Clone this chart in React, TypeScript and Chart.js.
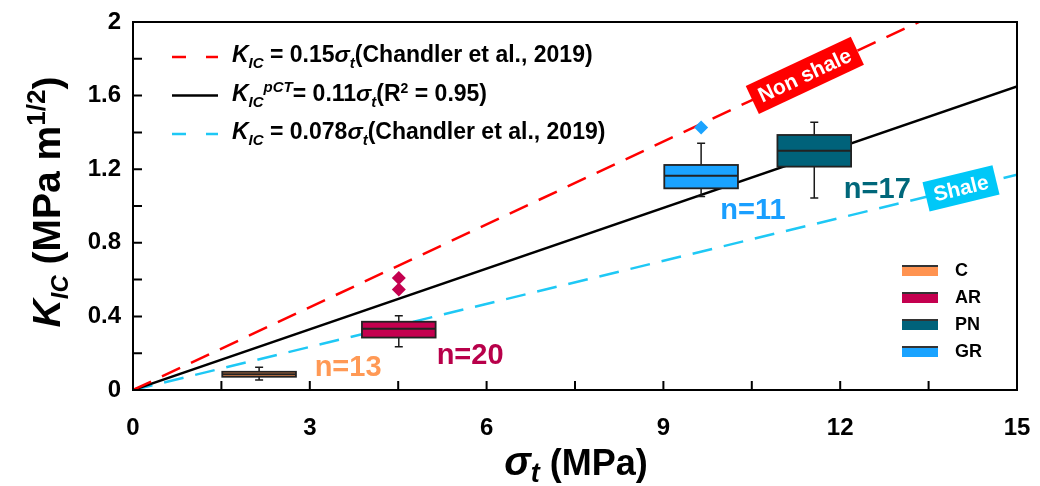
import React, { useEffect, useRef } from 'react';
import { Chart, registerables } from 'chart.js';

Chart.register(...registerables);

// Rock groups and their box statistics (K_IC in MPa m^1/2, sigma_t in MPa)
const groups = ['C', 'AR', 'PN', 'GR'];
const groupColors = ['#FF9350', '#C4004F', '#00627A', '#1AA3FF'];
const countColors = ['#FF9955', '#B8004A', '#00677A', '#1A9FFF'];
const centers = [2.14, 4.51, 11.56, 9.64];
const whiskerLow = [0.054, 0.235, 1.043, 1.051];
const q1 = [0.072, 0.285, 1.214, 1.096];
const medians = [0.086, 0.333, 1.3, 1.165];
const q3 = [0.099, 0.371, 1.386, 1.223];
const whiskerHigh = [0.123, 0.404, 1.455, 1.341];
const counts = [13, 20, 17, 11];
const countLabelX = [3.65, 5.72, 12.63, 10.52];
const countLabelY = [0.117, 0.185, 1.087, 0.973];
const boxWidth = 1.25;

// Outliers
const outlierX = [4.51, 4.51, 9.64];
const outlierY = [0.609, 0.546, 1.426];
const outlierGroup = [1, 1, 3];

// Linear relations K_IC = slope * sigma_t
const fitSlopes = [0.15, 0.11, 0.078];
const fitColors = ['#FF0000', '#000000', '#1EC8F5'];
const fitDashed = [true, false, true];
const fitRange = [0, 15];

// Axis ticks
const xMajorTicks = [0, 3, 6, 9, 12, 15];
const xMinorTicks = [1.5, 3, 4.5, 6, 7.5, 9, 10.5, 12, 13.5];
const yMinorTicks = [0.2, 0.4, 0.6, 0.8, 1.0, 1.2, 1.4, 1.6, 1.8];

const FONT = "Arial, 'Liberation Sans', Helvetica, sans-serif";

type Seg = { t: string; size: number; italic?: boolean; dy?: number };

function richWidth(ctx: CanvasRenderingContext2D, segs: Seg[]) {
  let w = 0;
  for (const s of segs) {
    ctx.font = `${s.italic ? 'italic ' : ''}bold ${s.size}px ${FONT}`;
    w += ctx.measureText(s.t).width;
  }
  return w;
}

function drawRich(ctx: CanvasRenderingContext2D, segs: Seg[], x: number, y: number) {
  let cx = x;
  ctx.textBaseline = 'alphabetic';
  ctx.textAlign = 'left';
  for (const s of segs) {
    ctx.font = `${s.italic ? 'italic ' : ''}bold ${s.size}px ${FONT}`;
    ctx.fillText(s.t, cx, y + (s.dy || 0));
    cx += ctx.measureText(s.t).width;
  }
}

const legendRows: Seg[][] = [
  [
    { t: 'K', size: 23, italic: true },
    { t: 'IC', size: 15, italic: true, dy: 6 },
    { t: ' = 0.15', size: 23 },
    { t: 'σ', size: 23, italic: true },
    { t: 't', size: 15, italic: true, dy: 6 },
    { t: '(Chandler et al., 2019)', size: 23 },
  ],
  [
    { t: 'K', size: 23, italic: true },
    { t: 'IC', size: 15, italic: true, dy: 6 },
    { t: 'pCT', size: 15, italic: true, dy: -9 },
    { t: '= 0.11', size: 23 },
    { t: 'σ', size: 23, italic: true },
    { t: 't', size: 15, italic: true, dy: 6 },
    { t: '(R', size: 23 },
    { t: '2', size: 14, dy: -8 },
    { t: ' = 0.95)', size: 23 },
  ],
  [
    { t: 'K', size: 23, italic: true },
    { t: 'IC', size: 15, italic: true, dy: 6 },
    { t: ' = 0.078', size: 23 },
    { t: 'σ', size: 23, italic: true },
    { t: 't', size: 15, italic: true, dy: 6 },
    { t: '(Chandler et al., 2019)', size: 23 },
  ],
];

const yTitle: Seg[] = [
  { t: 'K', size: 39, italic: true },
  { t: 'IC', size: 24, italic: true, dy: 8 },
  { t: ' (MPa m', size: 39 },
  { t: '1/2', size: 26, dy: -15 },
  { t: ')', size: 39 },
];

const xTitle: Seg[] = [
  { t: 'σ', size: 40, italic: true },
  { t: 't', size: 27, italic: true, dy: 7 },
  { t: ' (MPa)', size: 36 },
];

const decorPlugin = {
  id: 'decor',
  afterDatasetsDraw(chart: any) {
    const ctx: CanvasRenderingContext2D = chart.ctx;
    const xs = chart.scales.x;
    const ys = chart.scales.y;
    const area = chart.chartArea;
    ctx.save();

    // region tags sitting on the Chandler lines
    const tag = (text: string, slope: number, xv: number, fill: string, w: number, h: number) => {
      const px = xs.getPixelForValue(xv);
      const py = ys.getPixelForValue(slope * xv);
      const ang = Math.atan2(
        ys.getPixelForValue(slope * 10) - ys.getPixelForValue(0),
        xs.getPixelForValue(10) - xs.getPixelForValue(0)
      );
      ctx.save();
      ctx.translate(px, py);
      ctx.rotate(ang);
      ctx.fillStyle = fill;
      ctx.fillRect(-w / 2, -h / 2, w, h);
      ctx.fillStyle = '#FFFFFF';
      ctx.font = `bold 21px ${FONT}`;
      ctx.textAlign = 'center';
      ctx.textBaseline = 'middle';
      ctx.fillText(text, 0, 1);
      ctx.restore();
    };
    tag('Non shale', fitSlopes[0], 11.4, '#FF0000', 116, 31);
    tag('Shale', fitSlopes[2], 14.05, '#00C8F8', 72, 30);

    // box plots
    groups.forEach((g, i) => {
      const cx = xs.getPixelForValue(centers[i]);
      const left = xs.getPixelForValue(centers[i] - boxWidth / 2);
      const right = xs.getPixelForValue(centers[i] + boxWidth / 2);
      const top = ys.getPixelForValue(q3[i]);
      const bot = ys.getPixelForValue(q1[i]);
      const wHi = ys.getPixelForValue(whiskerHigh[i]);
      const wLo = ys.getPixelForValue(whiskerLow[i]);
      ctx.strokeStyle = '#1A1A1A';
      ctx.lineWidth = 1.5;
      ctx.beginPath();
      ctx.moveTo(cx, top);
      ctx.lineTo(cx, wHi);
      ctx.moveTo(cx - 4, wHi);
      ctx.lineTo(cx + 4, wHi);
      ctx.moveTo(cx, bot);
      ctx.lineTo(cx, wLo);
      ctx.moveTo(cx - 4, wLo);
      ctx.lineTo(cx + 4, wLo);
      ctx.stroke();
      ctx.fillStyle = groupColors[i];
      ctx.fillRect(left, top, right - left, bot - top);
      ctx.lineWidth = 1.8;
      ctx.strokeStyle = '#222222';
      ctx.strokeRect(left, top, right - left, bot - top);
      const my = ys.getPixelForValue(medians[i]);
      ctx.lineWidth = 2;
      ctx.beginPath();
      ctx.moveTo(left, my);
      ctx.lineTo(right, my);
      ctx.stroke();

      // sample counts
      ctx.fillStyle = countColors[i];
      ctx.font = `bold 29px ${FONT}`;
      ctx.textAlign = 'center';
      ctx.textBaseline = 'middle';
      ctx.fillText(`n=${counts[i]}`, xs.getPixelForValue(countLabelX[i]), ys.getPixelForValue(countLabelY[i]));
    });

    // group legend (bottom right)
    groups.forEach((g, i) => {
      const y = 265 + i * 27;
      ctx.fillStyle = groupColors[i];
      ctx.fillRect(902, y, 36, 11);
      ctx.fillStyle = '#333333';
      ctx.fillRect(902, y, 36, 2);
      ctx.fillStyle = '#000000';
      ctx.font = `bold 18px ${FONT}`;
      ctx.textAlign = 'left';
      ctx.textBaseline = 'middle';
      ctx.fillText(g, 955, y + 6);
    });

    // relation legend (top left)
    legendRows.forEach((row, i) => {
      const ly = 57 + i * 38.5;
      ctx.strokeStyle = fitColors[i];
      ctx.lineWidth = 2.5;
      ctx.setLineDash(fitDashed[i] ? [14, 20] : []);
      ctx.beginPath();
      ctx.moveTo(172, ly);
      ctx.lineTo(218, ly);
      ctx.stroke();
      ctx.setLineDash([]);
      ctx.fillStyle = '#000000';
      drawRich(ctx, row, 232, ly + 5);
    });

    // frame and inward ticks
    ctx.strokeStyle = '#000000';
    ctx.lineWidth = 2;
    ctx.strokeRect(area.left, area.top, area.right - area.left, area.bottom - area.top);
    ctx.beginPath();
    xMinorTicks.forEach((v) => {
      const p = xs.getPixelForValue(v);
      ctx.moveTo(p, area.bottom);
      ctx.lineTo(p, area.bottom - 9);
    });
    yMinorTicks.forEach((v) => {
      const p = ys.getPixelForValue(v);
      ctx.moveTo(area.left, p);
      ctx.lineTo(area.left + 9, p);
    });
    ctx.stroke();

    // axis titles
    ctx.fillStyle = '#000000';
    const xw = richWidth(ctx, xTitle);
    drawRich(ctx, xTitle, 576 - xw / 2, 475);
    const yw = richWidth(ctx, yTitle);
    ctx.save();
    ctx.translate(60, 202);
    ctx.rotate(-Math.PI / 2);
    drawRich(ctx, yTitle, -yw / 2, 0);
    ctx.restore();

    ctx.restore();
  },
};

export default function App() {
  const canvasRef = useRef<HTMLCanvasElement | null>(null);

  useEffect(() => {
    document.body.style.margin = '0';
    const canvas = canvasRef.current;
    if (!canvas) return;

    const lineSets = fitSlopes.map((s, i) => ({
      type: 'line' as const,
      data: fitRange.map((x) => ({ x, y: s * x })),
      borderColor: fitColors[i],
      borderWidth: 2.5,
      borderDash: fitDashed[i] ? [20, 12] : [],
      pointRadius: 0,
      showLine: true,
      fill: false,
    }));

    const outlierSet = {
      type: 'scatter' as const,
      data: outlierX.map((x, i) => ({ x, y: outlierY[i] })),
      pointStyle: 'rectRot',
      pointRadius: 7,
      backgroundColor: outlierGroup.map((g) => groupColors[g]),
      borderWidth: 0,
    };

    const chart = new Chart(canvas, {
      type: 'scatter',
      data: { datasets: [outlierSet as any, ...lineSets] },
      options: {
        responsive: false,
        animation: false,
        layout: { padding: { top: 22, right: 23, left: 0, bottom: 0 } },
        plugins: { legend: { display: false }, tooltip: { enabled: false } },
        scales: {
          x: {
            type: 'linear',
            min: 0,
            max: 15,
            afterBuildTicks: (s: any) => {
              s.ticks = xMajorTicks.map((v) => ({ value: v }));
            },
            ticks: {
              color: '#000',
              font: { family: FONT, size: 24, weight: 'bold' },
              padding: 24,
              maxRotation: 0,
              callback: (v: any) => String(v),
            },
            grid: { display: false, drawTicks: false },
            border: { display: false },
            afterFit: (s: any) => {
              s.height = 96;
              s.paddingLeft = 0;
              s.paddingRight = 0;
            },
          },
          y: {
            type: 'linear',
            min: 0,
            max: 2,
            ticks: {
              stepSize: 0.4,
              color: '#000',
              font: { family: FONT, size: 24, weight: 'bold' },
              padding: 12,
              callback: (v: any) => String(Number(Number(v).toFixed(1))),
            },
            grid: { display: false, drawTicks: false },
            border: { display: false },
            afterFit: (s: any) => {
              s.width = 133;
              s.paddingTop = 0;
              s.paddingBottom = 0;
            },
          },
        },
      },
      plugins: [decorPlugin],
    });

    return () => chart.destroy();
  }, []);

  return <canvas ref={canvasRef} width={1040} height={486} style={{ display: 'block' }} />;
}
